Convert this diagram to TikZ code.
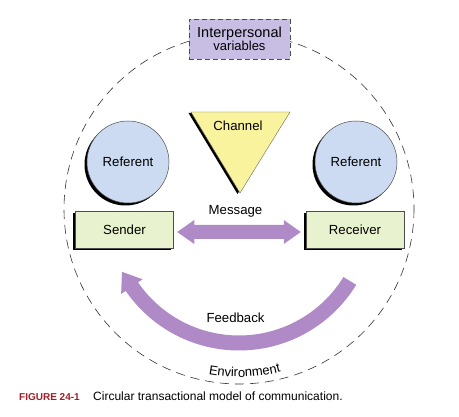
\documentclass[tikz,border=0pt]{standalone}
\usepackage{fontspec}
\setmainfont{Liberation Sans}
\usetikzlibrary{calc,shadows,decorations.text}
\definecolor{arrowpurple}{RGB}{176,138,198}
\definecolor{refblue}{RGB}{204,219,241}
\definecolor{persongreen}{RGB}{232,242,206}
\definecolor{chanyellow}{RGB}{250,243,158}
\definecolor{ipvlav}{RGB}{200,190,228}
\definecolor{figred}{RGB}{165,28,38}
\newcommand\envfont{\fontsize{13}{13}\selectfont}
\begin{document}
\begin{tikzpicture}[x=1pt,y=-1pt,
  lbl/.style={font=\fontsize{13.2}{15}\selectfont, inner sep=0pt},
  envline/.style={draw=black!80, line width=0.6pt, dash pattern=on 9pt off 6pt},
  ipvbox/.style={rectangle, fill=ipvlav, draw=black!70, line width=0.8pt,
    dash pattern=on 5pt off 3pt, minimum width=101pt, minimum height=40pt,
    align=center, inner sep=0pt},
  refcircle/.style={circle, fill=refblue, draw=black!70, line width=0.5pt,
    minimum size=82pt, inner sep=0pt, font=\fontsize{13.2}{15}\selectfont,
    drop shadow={shadow xshift=-2.5pt, shadow yshift=-2.5pt, opacity=1, fill=black}},
  person/.style={rectangle, fill=persongreen, draw=black!70, line width=0.5pt,
    minimum width=98pt, minimum height=37pt, inner sep=0pt,
    font=\fontsize{13.2}{15}\selectfont,
    drop shadow={shadow xshift=-2.5pt, shadow yshift=-2.5pt, opacity=1, fill=black}},
  channel/.style={fill=chanyellow, draw=black!60, line width=0.4pt},
  flowarrow/.style={fill=arrowpurple}
]
\useasboundingbox (0,0) rectangle (459,417);
\coordinate (C) at (239,209);
\coordinate (F) at (239,213);
% environment circle
\draw[envline] (C) circle (175);
% interpersonal variables
\node[ipvbox] (ipv) at (239.5,39)
  {{\fontsize{14.5}{14.5}\selectfont Interpersonal}\\[-0.5pt]{\fontsize{13}{14}\selectfont variables}};
% referents
\node[refcircle] (refL) at (128,162) {Referent};
\node[refcircle] (refR) at (356,162) {Referent};
% sender / receiver
\node[person] (S) at (124.5,229.5) {Sender};
\node[person] (R) at (355,229.5) {Receiver};
% channel
\coordinate (ch1) at (191,112);
\coordinate (ch2) at (290,112);
\coordinate (ch3) at (240,193);
\fill[black] ($(ch1)+(-2.5,1)$) -- ($(ch2)+(-2.5,1)$) -- ($(ch3)+(-2.5,1)$) -- cycle;
\filldraw[channel] (ch1) -- (ch2) -- (ch3) -- cycle;
\node[lbl] (chan) at (238,126) {Channel};
% message double arrow
\coordinate (mL) at ($(S.east)+(3.5,2.5)$);
\coordinate (mR) at ($(R.west)+(-5,2.5)$);
\fill[flowarrow] (mL) -- ++(17,-12) -- ++(0,5) -- ($(mR)+(-17,-7)$) -- ++(0,-5)
  -- (mR) -- ++(-17,12) -- ++(0,-5) -- ($(mL)+(17,7)$) -- ++(0,5) -- cycle;
\node[lbl, anchor=base] (msg) at (235.5,214.5) {Message};
% feedback arc
\fill[flowarrow] ($(F)+(31.5:137.5)$) arc[start angle=31.5, end angle=145.5, radius=137.5]
  -- ($(F)+(145.5:143)$) -- ($(F)+(153.3:131)$) -- ($(F)+(145.5:117)$)
  -- ($(F)+(145.5:122.5)$) arc[start angle=145.5, end angle=31.5, radius=122.5] -- cycle;
\node[lbl] (fb) at (235.5,318) {Feedback};
% environment label
\path[decorate, decoration={text along path, text={|\envfont|Environment}, text align=center}]
  ($(C)+(110:168)$) arc[start angle=110, end angle=66, radius=168];
% caption
\node[anchor=base west, inner sep=0pt, text=figred, font=\fontsize{10}{12}\selectfont\bfseries] (figno) at (19,401) {FIGURE 24-1};
\node[anchor=base west, inner sep=0pt, font=\fontsize{12}{14}\selectfont] (cap) at (93,401) {Circular transactional model of communication.};
\end{tikzpicture}
\end{document}
